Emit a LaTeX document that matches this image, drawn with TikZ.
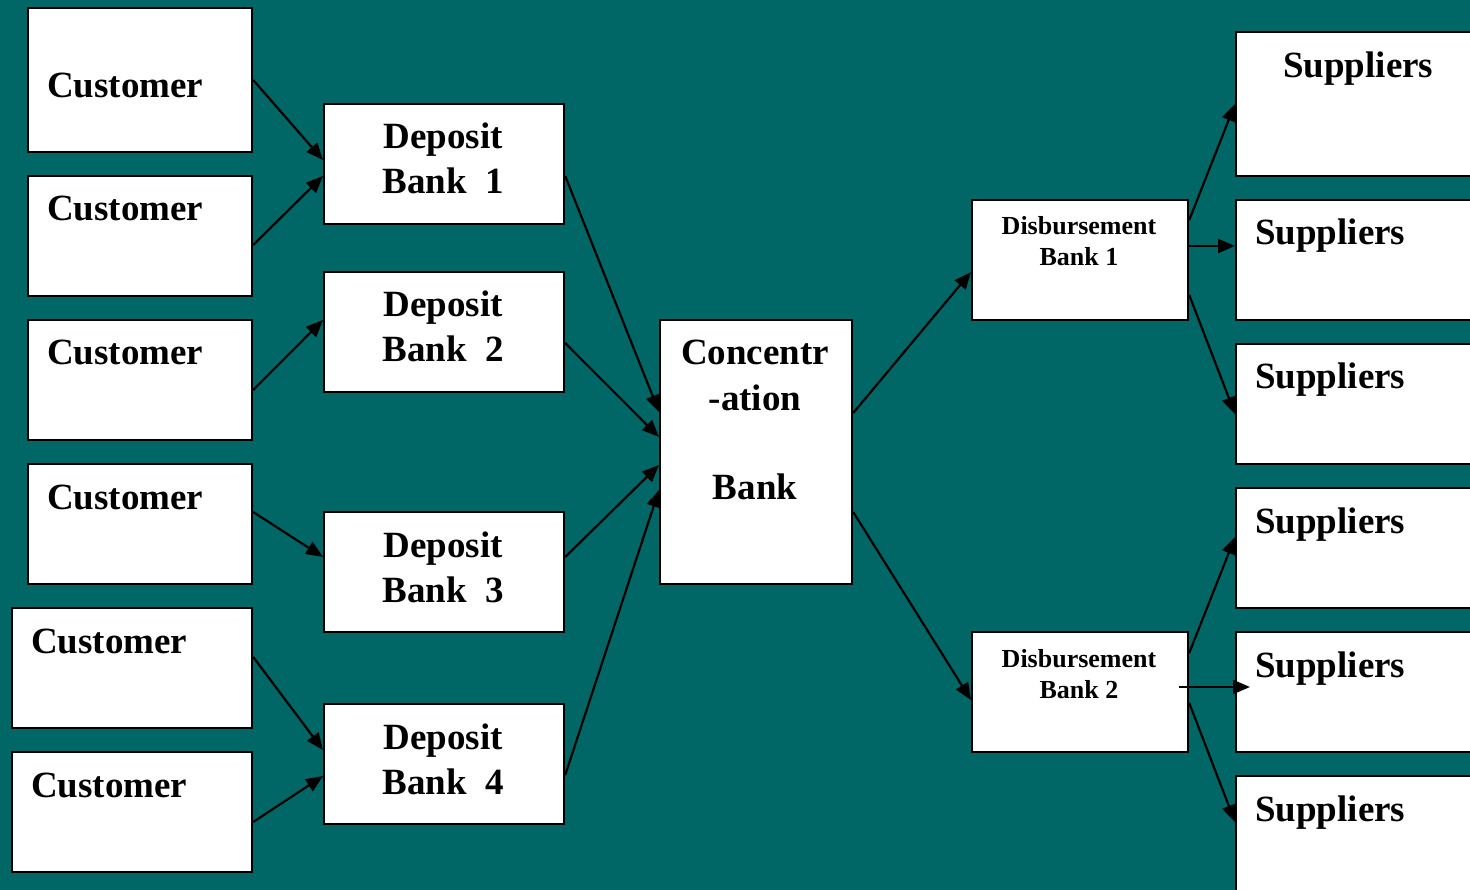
\documentclass[tikz,border=0pt]{standalone}
\usepackage{fontspec}
\setmainfont{Liberation Serif}
\usetikzlibrary{arrows.meta}
\definecolor{bg}{RGB}{0,102,102}
\begin{document}
\begin{tikzpicture}[x=1pt,y=-1pt,
  box/.style={draw=black, fill=white, line width=2.2pt, rectangle, inner sep=0pt, anchor=north west},
  big/.style={font=\fontsize{37}{45}\selectfont\bfseries, inner sep=0pt},
  small/.style={font=\fontsize{26}{31}\selectfont\bfseries, inner sep=0pt},
  arr/.style={line width=2.2pt, -{Triangle[length=17pt,width=14pt]}}]
\clip (0,0) rectangle (1470,890);
\fill[bg] (0,0) rectangle (1470,890);
% boxes
\node[box, minimum width=224pt, minimum height=144pt] (c1) at (27,7) {};
\node[box, minimum width=224pt, minimum height=120pt] (c2) at (27,175) {};
\node[box, minimum width=224pt, minimum height=120pt] (c3) at (27,319) {};
\node[box, minimum width=224pt, minimum height=120pt] (c4) at (27,463) {};
\node[box, minimum width=240pt, minimum height=120pt] (c5) at (11,607) {};
\node[box, minimum width=240pt, minimum height=120pt] (c6) at (11,751) {};
\node[box, minimum width=240pt, minimum height=120pt] (d1) at (323,103) {};
\node[box, minimum width=240pt, minimum height=120pt] (d2) at (323,271) {};
\node[box, minimum width=240pt, minimum height=120pt] (d3) at (323,511) {};
\node[box, minimum width=240pt, minimum height=120pt] (d4) at (323,703) {};
\node[box, minimum width=192pt, minimum height=264pt] (cb) at (659,319) {};
\node[box, minimum width=216pt, minimum height=120pt] (b1) at (971,199) {};
\node[box, minimum width=216pt, minimum height=120pt] (b2) at (971,631) {};
\node[box, minimum width=260pt, minimum height=144pt] (s1) at (1235,31) {};
\node[box, minimum width=260pt, minimum height=120pt] (s2) at (1235,199) {};
\node[box, minimum width=260pt, minimum height=120pt] (s3) at (1235,343) {};
\node[box, minimum width=260pt, minimum height=120pt] (s4) at (1235,487) {};
\node[box, minimum width=260pt, minimum height=120pt] (s5) at (1235,631) {};
\node[box, minimum width=260pt, minimum height=144pt] (s6) at (1235,775) {};
% texts
\node[big, anchor=base west] (tc1) at (47,98) {Customer};
\node[big, anchor=base west] (tc2) at (47,221) {Customer};
\node[big, anchor=base west] (tc3) at (47,365) {Customer};
\node[big, anchor=base west] (tc4) at (47,509) {Customer};
\node[big, anchor=base west] (tc5) at (31,653) {Customer};
\node[big, anchor=base west] (tc6) at (31,797) {Customer};
\node[big, anchor=base] (td1a) at (443,149) {Deposit};
\node[big, anchor=base] (td1b) at (443,194) {Bank\ \ 1};
\node[big, anchor=base] (td2a) at (443,317) {Deposit};
\node[big, anchor=base] (td2b) at (443,362) {Bank\ \ 2};
\node[big, anchor=base] (td3a) at (443,557) {Deposit};
\node[big, anchor=base] (td3b) at (443,602) {Bank\ \ 3};
\node[big, anchor=base] (td4a) at (443,749) {Deposit};
\node[big, anchor=base] (td4b) at (443,794) {Bank\ \ 4};
\node[big, anchor=base] (tcba) at (755,365) {Concentr};
\node[big, anchor=base] (tcbb) at (755,410) {-ation};
\node[big, anchor=base] (tcbc) at (755,499) {Bank};
\node[small, anchor=base] (tb1a) at (1079,235) {Disbursement};
\node[small, anchor=base] (tb1b) at (1079,266) {Bank 1};
\node[small, anchor=base] (tb2a) at (1079,667) {Disbursement};
\node[small, anchor=base] (tb2b) at (1079,698) {Bank 2};
\node[big, anchor=base west] (ts1) at (1283,78) {Suppliers};
\node[big, anchor=base west] (ts2) at (1255,245) {Suppliers};
\node[big, anchor=base west] (ts3) at (1255,389) {Suppliers};
\node[big, anchor=base west] (ts4) at (1255,533) {Suppliers};
\node[big, anchor=base west] (ts5) at (1255,677) {Suppliers};
\node[big, anchor=base west] (ts6) at (1255,821) {Suppliers};
% connectors
\draw[arr] (c1.east |- 0,80) -- (d1.west |- 0,160);
\draw[arr] (c2.east |- 0,245) -- (d1.west |- 0,176);
\draw[arr] (c3.east |- 0,390) -- (d2.west |- 0,320);
\draw[arr] (c4.east |- 0,512) -- (d3.west |- 0,557);
\draw[arr] (c5.east |- 0,657) -- (d4.west |- 0,750);
\draw[arr] (c6.east |- 0,822) -- (d4.west |- 0,776);
\draw[arr] (d1.east |- 0,176) -- (cb.west |- 0,412);
\draw[arr] (d2.east |- 0,343) -- (cb.west |- 0,437);
\draw[arr] (d3.east |- 0,557) -- (cb.west |- 0,465);
\draw[arr] (d4.east |- 0,775) -- (cb.west |- 0,490);
\draw[arr] (cb.east |- 0,413) -- (b1.west |- 0,272);
\draw[arr] (cb.east |- 0,512) -- (b2.west |- 0,700);
\draw[arr] (b1.east |- 0,220) -- (s1.west |- 0,104);
\draw[arr] (b1.east |- 0,246) -- (s2.west |- 0,246);
\draw[arr] (b1.east |- 0,295) -- (s3.west |- 0,414);
\draw[arr] (b2.east |- 0,653) -- (s4.west |- 0,537);
\coordinate (b2o) at (1179,687);
\coordinate (s5i) at (1250,687);
\draw[arr] (b2o) -- (s5i);
\draw[arr] (b2.east |- 0,703) -- (s6.west |- 0,822);
\end{tikzpicture}
\end{document}
